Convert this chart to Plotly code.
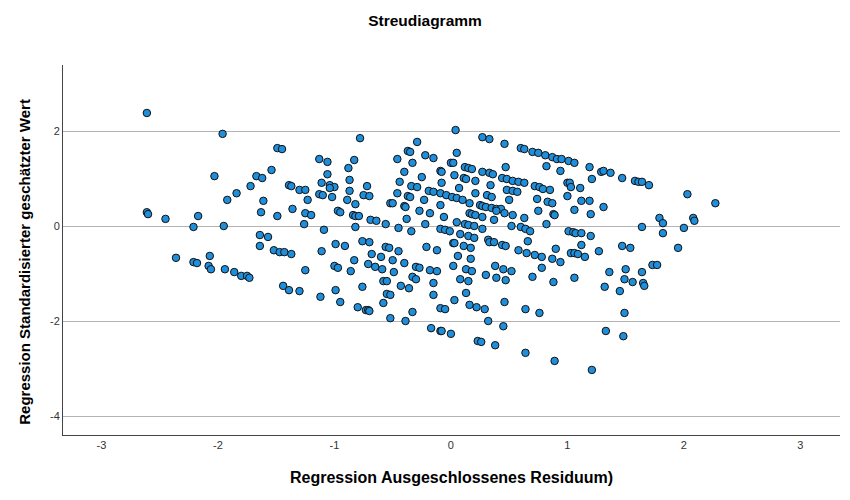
import plotly.graph_objects as go

residual = [
    -2.61, -1.96, -1.49, -1.45, -2.03, -1.67, -1.62, -1.54, -1.72, -1.84, -1.92, -1.61, -2.61, -2.60, -2.45, -2.17,
    -1.63, -1.49, -2.21, -1.95, -1.64, -1.57, -1.64, -1.52, -1.47, -1.43, -2.36, -2.07, -2.21, -2.18, -2.08, -2.06,
    -1.94, -1.86, -1.80, -1.75, -1.73, -1.44,
    -0.78, -0.29, -0.37, -0.35, -0.22, -0.15, -1.13, -1.06, -0.83, -0.46, -0.33, -0.88, -0.40, -1.06, -0.87, -0.25,
    -1.39, -1.37, -1.30, -1.25, -1.11, -1.04, -1.00, -1.04, -0.87, -0.72, -0.44, -0.34, -0.29, -0.46, -0.37, -0.35,
    -0.19, -0.15, -1.13, -1.10, -1.02, -0.75, -0.70, -0.89, -1.23, -0.23,
    -1.36, -1.25, -1.20, -0.97, -0.95, -0.82, -0.84, -0.82, -0.79, -0.69, -0.64, -1.26, -1.09, -0.82, -0.56, -0.52,
    -0.50, -0.40, -0.39, -0.38, -0.27, -0.18, -0.45, -0.34, -0.22, -0.76, -0.70, -0.99, -0.91, -1.11, -1.37, -0.56,
    -0.53, -0.45, -0.21, -0.68, -0.60, -0.50, -0.40, -0.83, -0.71, -0.65, -0.59, -1.00, -0.97, -0.86, -0.49, -0.30,
    -0.27, -1.25, -0.18, -0.33, -0.30, -0.58, -0.55, -1.39, -1.30, -0.99, -0.76, -0.43, -0.36, -0.55, -0.52, -1.12,
    -0.95, -0.80, -0.73, -0.71, -0.70, -0.58, -0.52, -0.39, -0.33, -0.17,
    0.04, 0.27, 0.33, 0.46, 0.60, 0.63, 0.70, 0.75, 0.81, 0.87, 0.91, 0.95, 1.01, 1.06, 0.05, 0.00,
    0.02, 0.12, 0.15, 0.18, 0.47, 0.82, 0.94, -0.09, -0.08, 0.27, 0.33, 0.36, 0.03, 0.11, 0.13, 0.21,
    0.44, 0.48, 0.53, 0.58, 0.63, -0.08, 0.34, 0.72, 0.76, 0.79, 0.85, 1.00, 1.02, 1.03, 1.11, 0.07,
    0.48, 0.53, 0.57, 0.21, 0.31, 0.35, -0.09, -0.04, 0.01, 0.05, 0.10, 0.74, 1.00, 0.50,
    -0.09, 0.16, 0.25, 0.27, 0.30, 0.35, 0.39, 0.43, 0.83, 0.87, 1.12, 0.16, 0.18, 0.21, 0.27, 0.39,
    0.46, 0.53, 0.63, 0.75, 0.88, 0.89, 1.06, -0.06, 0.05, 0.12, 0.15, 0.20, 0.27, 0.37, 0.52, 0.60,
    0.64, 0.68, 0.82, -0.09, -0.05, -0.01, 0.08, 0.15, 0.20, 1.01, 1.05, 1.07, 1.12, 0.32, 0.33, 0.37,
    0.44, 0.47, 0.66, 0.02, 0.03, 0.11, 0.17, 1.12, -0.12, 0.58, 0.65, 0.72, 0.78, 0.90, 1.03, 1.06,
    1.09, 0.06, 0.17, 0.87, 0.94, 0.02, 0.38, 0.45, 0.52, 0.13, 0.18, 0.78, -0.12, 0.30, 0.39, 0.47,
    0.70, 0.08, 0.15, 0.88, 1.06, -0.15, 0.13, -0.15, 0.03, 0.46,
    -0.09, -0.05, 0.16, 0.22, 0.29, 0.64, 0.76, 0.32, 0.45, -0.09, -0.08, 0.00, 0.23, 0.26, 0.38, 0.64, 0.89,
    1.19, 1.21, 1.29, 1.31, 1.37, 1.47, 1.58, 1.61, 1.64, 1.70, 2.03, 1.19, 1.31, 1.20, 2.27, 1.79,
    1.82, 2.08, 2.09, 1.64, 2.00, 1.82, 1.20, 1.15, 1.47, 1.54, 1.27, 1.95, 1.73, 1.77, 1.36, 1.50,
    1.64, 1.49, 1.56, 1.65, 1.66, 1.32, 1.45, 1.49, 1.33, 1.48, 1.21,
]

predicted = [
    2.38, 1.94, 1.64, 1.62, 1.05, 1.05, 1.01, 1.18, 0.84, 0.69, 0.55, 0.53, 0.29, 0.25, 0.15, 0.21,
    0.29, 0.21, -0.02, 0.00, -0.19, -0.23, -0.42, -0.51, -0.55, -0.55, -0.67, -0.63, -0.76, -0.78, -0.84, -0.91,
    -0.91, -0.97, -1.05, -1.05, -1.09, -1.26,
    1.85, 1.77, 1.58, 1.56, 1.49, 1.43, 1.41, 1.35, 1.39, 1.41, 1.33, 1.22, 1.14, 1.09, 0.97, 1.03,
    0.86, 0.84, 0.76, 0.76, 0.91, 0.86, 0.82, 0.80, 0.74, 0.84, 0.93, 0.84, 0.82, 0.69, 0.63, 0.61,
    0.74, 0.72, 0.67, 0.65, 0.61, 0.65, 0.63, 0.55, 0.55, 0.55,
    0.36, 0.27, 0.23, 0.32, 0.29, 0.46, 0.23, 0.21, 0.21, 0.13, 0.11, 0.04, -0.08, -0.02, 0.04, 0.48,
    0.48, 0.42, 0.40, 0.15, 0.32, 0.27, -0.04, -0.11, 0.04, -0.32, -0.34, -0.38, -0.42, -0.53, -0.59, -0.44,
    -0.46, -0.53, -0.44, -0.59, -0.65, -0.72, -0.78, -0.72, -0.80, -0.86, -0.91, -0.84, -0.88, -0.95, -0.97, -0.86,
    -0.88, -0.93, -0.93, -1.07, -1.12, -1.16, -1.16, -1.35, -1.37, -1.35, -1.28, -1.26, -1.31, -1.43, -1.45, -1.49,
    -1.60, -1.71, -1.77, -1.77, -1.79, -1.62, -1.94, -2.00, -1.81, -2.15,
    2.02, 1.87, 1.83, 1.73, 1.64, 1.62, 1.56, 1.54, 1.49, 1.45, 1.41, 1.41, 1.37, 1.33, 1.54, 1.33,
    1.33, 1.24, 1.22, 1.20, 1.24, 1.26, 1.16, 1.16, 1.14, 1.14, 1.12, 1.09, 1.07, 1.01, 0.99, 0.95,
    1.01, 0.99, 0.95, 0.93, 0.91, 0.91, 0.86, 0.84, 0.82, 0.78, 0.76, 0.91, 0.91, 0.82, 0.80, 0.80,
    0.76, 0.74, 0.72, 0.69, 0.65, 0.61, 0.69, 0.65, 0.61, 0.59, 0.55, 0.57, 0.63, 0.55,
    0.44, 0.48, 0.44, 0.42, 0.40, 0.38, 0.36, 0.36, 0.51, 0.48, 0.53, 0.27, 0.25, 0.23, 0.19, 0.32,
    0.27, 0.23, 0.17, 0.32, 0.25, 0.23, 0.34, 0.19, 0.08, 0.04, 0.02, 0.00, -0.06, 0.13, 0.00, -0.02,
    -0.06, -0.11, 0.04, -0.06, -0.08, -0.11, -0.17, -0.21, -0.25, -0.11, -0.13, -0.15, -0.15, -0.29, -0.34, -0.34,
    -0.40, -0.42, -0.32, -0.36, -0.36, -0.42, -0.46, -0.40, -0.51, -0.51, -0.57, -0.61, -0.65, -0.48, -0.57, -0.57,
    -0.59, -0.63, -0.69, -0.69, -0.76, -0.84, -0.84, -0.91, -0.95, -0.91, -0.95, -0.88, -0.95, -1.03, -1.09, -1.14,
    -1.07, -1.12, -1.16, -1.18, -1.09, -1.20, -1.41, -1.45, -1.56, -1.60,
    -1.73, -1.75, -1.66, -1.71, -1.75, -1.75, -1.83, -2.00, -2.11, -2.21, -2.21, -2.27, -2.42, -2.44, -2.51, -2.67, -2.84,
    1.24, 0.99, 1.14, 1.16, 1.12, 1.01, 0.95, 0.93, 0.93, 0.86, 0.67, 0.53, 0.40, 0.25, 0.48, 0.17,
    0.06, 0.17, 0.11, -0.02, -0.04, -0.15, -0.21, -0.65, -0.42, -0.46, -0.53, -0.46, -0.82, -0.82, -0.97, -0.91,
    -0.97, -1.12, -1.18, -1.20, -1.26, -1.28, -1.37, -1.83, -2.21, -2.32, -3.03,
]

x_ticks = [-3, -2, -1, 0, 1, 2, 3]
x_tick_labels = ["-3", "-2", "-1", "0", "1", "2", "3"]
y_ticks = [-4, -2, 0, 2]
y_tick_labels = ["-4", "-2", "0", "2"]
y_title = "Regression Standardisierter geschätzter Wert"

fig = go.Figure()
fig.add_trace(go.Scatter(
    x=residual, y=predicted, mode="markers",
    marker=dict(size=7.5, color="#1f8fdc", line=dict(color="#111111", width=1)),
    hoverinfo="x+y", showlegend=False,
))

fig.update_layout(
    width=850, height=500,
    margin=dict(l=63, r=10, t=65, b=65),
    paper_bgcolor="white", plot_bgcolor="white",
    font=dict(family="Liberation Sans, Arial, sans-serif", color="#000000"),
    title=dict(text="<b>Streudiagramm</b>", x=0.5, xanchor="center", y=0.958, yanchor="middle",
               font=dict(size=15.5, color="#000000")),
    annotations=[dict(
        text="<b>" + y_title + "</b>", textangle=-90, xref="paper", yref="paper",
        x=-0.049, y=0.468, xanchor="center", yanchor="middle", showarrow=False,
        font=dict(size=15, color="#000000"),
    )],
)
fig.update_xaxes(
    range=[-3.33, 3.34], tickvals=x_ticks, ticktext=x_tick_labels,
    showgrid=False, zeroline=False, showline=True, linecolor="#444444", linewidth=1,
    ticks="", tickfont=dict(size=11, color="#333333"),
    title=dict(text="<b>Regression Ausgeschlossenes Residuum)</b>", font=dict(size=16, color="#000000"), standoff=21),
)
fig.update_yaxes(
    range=[-4.40, 3.39], tickvals=y_ticks, ticktext=y_tick_labels,
    showgrid=True, gridcolor="#b4b4b4", gridwidth=1, zeroline=False,
    showline=True, linecolor="#444444", linewidth=1,
    ticks="", tickfont=dict(size=11, color="#333333"),
)

fig.write_html("out.html")
